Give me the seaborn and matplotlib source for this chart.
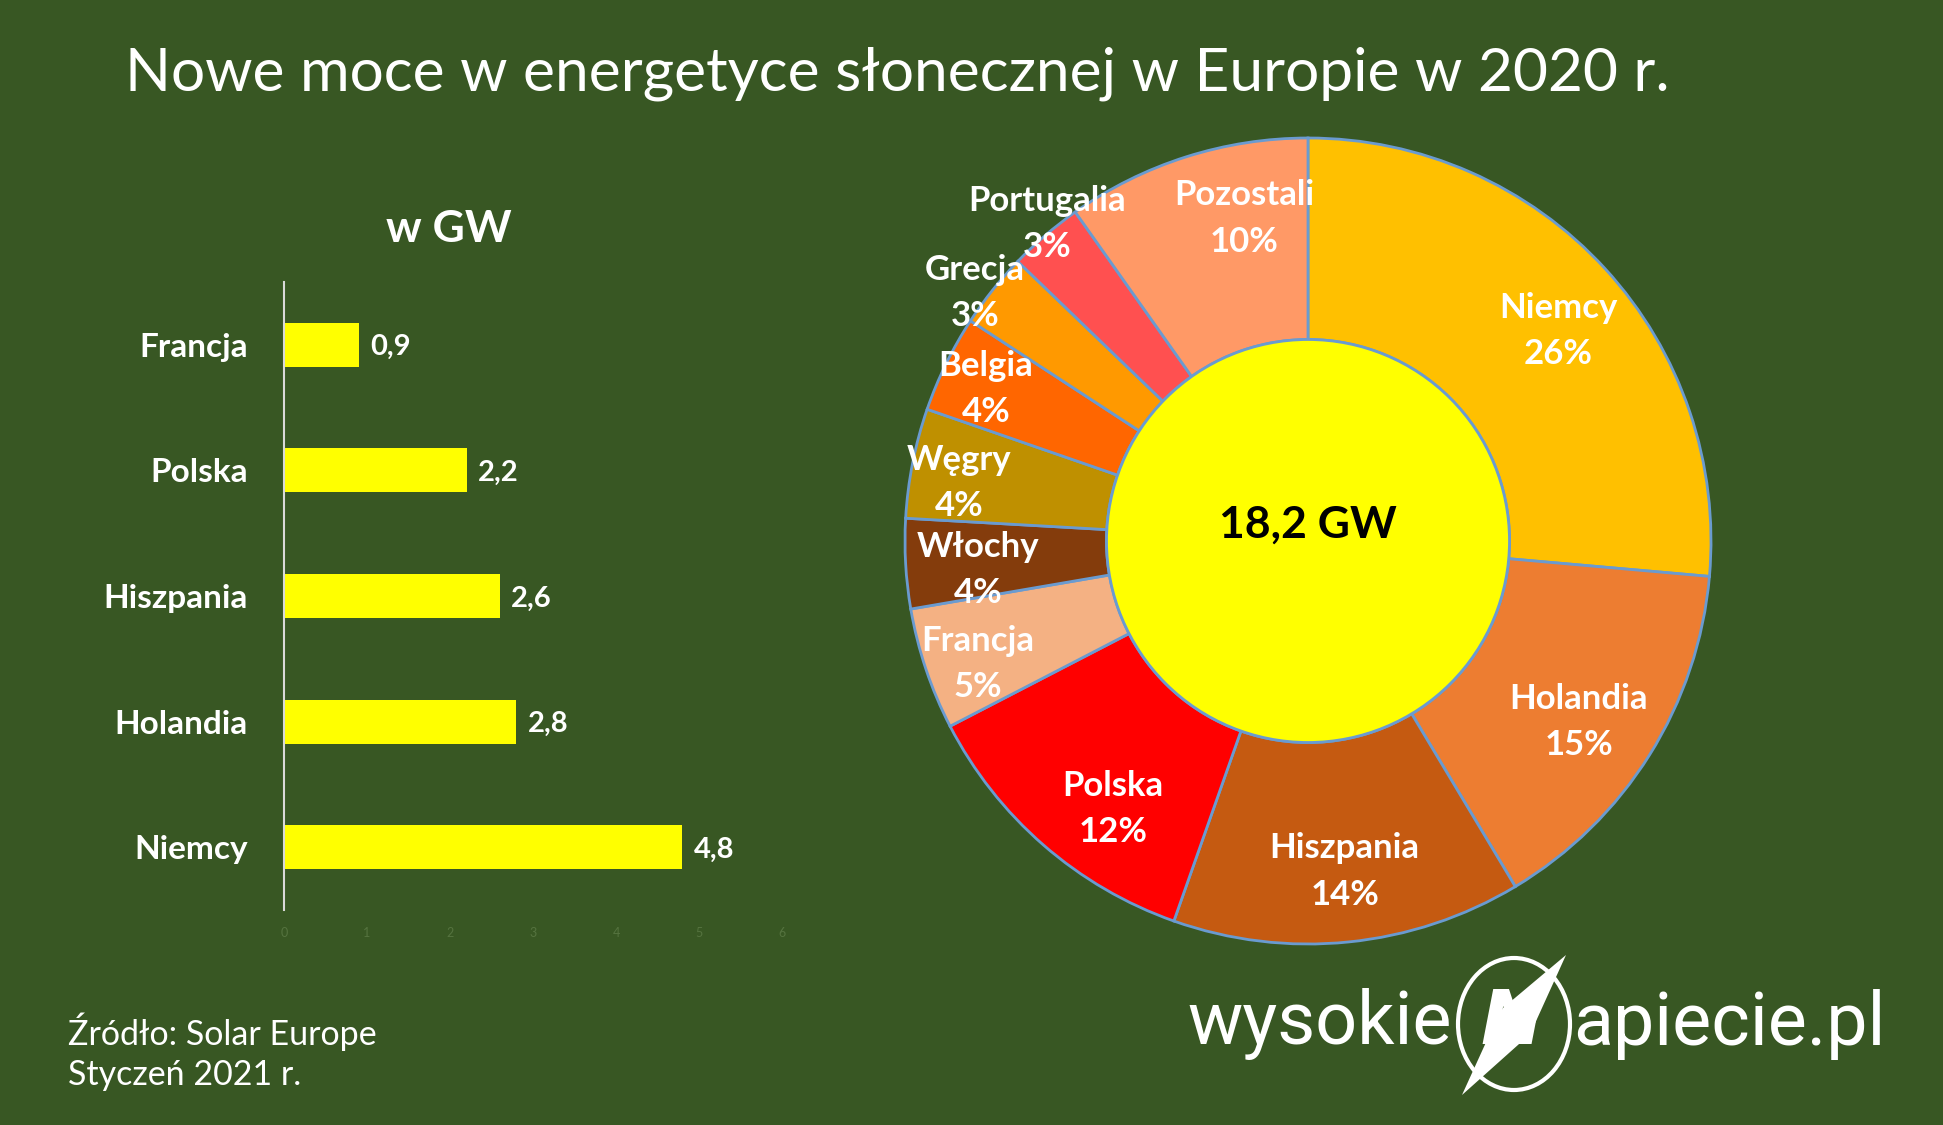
import numpy as np
import matplotlib
matplotlib.use("Agg")
import matplotlib.pyplot as plt
from matplotlib.patches import Circle, Ellipse, Polygon
import seaborn as sns

# --- data -------------------------------------------------------------
bar_countries = ["Francja", "Polska", "Hiszpania", "Holandia", "Niemcy"]
bar_values = [0.9, 2.2, 2.6, 2.8, 4.8]  # GW

donut_countries = ["Niemcy", "Holandia", "Hiszpania", "Polska", "Francja", "Włochy",
                   "Węgry", "Belgia", "Grecja", "Portugalia", "Pozostali"]
donut_shares = [26.4, 15.0, 14.0, 12.0, 4.9, 3.6, 4.4, 3.9, 3.0, 3.0, 9.8]  # %
donut_colors = ["#FFC000", "#ED7D31", "#C55A11", "#FF0000", "#F4B183", "#843C0C",
                "#BF9000", "#FF6600", "#FF9900", "#FF5050", "#FF9966"]
total_label = "18,2 GW"

title = "Nowe moce w energetyce słonecznej w Europie w 2020 r."
unit_label = "w GW"
source_text = "Źródło: Solar Europe\nStyczeń 2021 r."

# --- style ------------------------------------------------------------
BG = "#385723"
EDGE = "#6A9BD0"
sns.set_style("white")
plt.rcParams["font.family"] = ["Lato", "DejaVu Sans"]

W, H = 1943, 1125
fig = plt.figure(figsize=(W / 100, H / 100), dpi=100, facecolor=BG)

# --- bar chart --------------------------------------------------------
ax_bar = fig.add_axes([284 / W, 1 - 910 / H, 498 / W, 628 / H])
ax_bar.set_facecolor(BG)
sns.barplot(x=bar_values, y=bar_countries, orient="h", color="#FFFF00",
            saturation=1, width=0.35, linewidth=0, ax=ax_bar)
ax_bar.set_xlim(0, 6)
ax_bar.set_xticks(range(7))
ax_bar.set_xlabel("")
ax_bar.set_ylabel("")
ax_bar.tick_params(axis="x", length=0, pad=12, labelsize=9, labelcolor="#55733F")
ax_bar.tick_params(axis="y", length=0, pad=26, labelsize=24, labelcolor="white")
for lbl in ax_bar.get_yticklabels():
    lbl.set_fontweight("bold")
for side in ["top", "right", "bottom"]:
    ax_bar.spines[side].set_visible(False)
ax_bar.spines["left"].set_color("#D9D9D9")
ax_bar.spines["left"].set_linewidth(1.5)
labels = ax_bar.bar_label(ax_bar.containers[0],
                          labels=[f"{v:.1f}".replace(".", ",") for v in bar_values],
                          padding=8, color="white", fontsize=21, fontweight="bold")
for t in labels:
    t.set_va("center_baseline")

fig.text(449 / W, 1 - 229 / H, unit_label, ha="center", va="center",
         color="white", fontsize=32, fontweight="bold")

# --- donut chart ------------------------------------------------------
ax_pie = fig.add_axes([905 / W, 1 - 944 / H, 806 / W, 806 / H])
ax_pie.set_facecolor(BG)
wedges, _ = ax_pie.pie(donut_shares, colors=donut_colors, startangle=90,
                       counterclock=False, radius=1,
                       wedgeprops=dict(width=0.5, edgecolor=EDGE, linewidth=2))
for w in wedges:
    w.set_clip_on(False)
ax_pie.add_patch(Circle((0, 0), 0.5, facecolor="#FFFF00", edgecolor=EDGE,
                        linewidth=2, clip_on=False))
ax_pie.set_xlim(-1, 1)
ax_pie.set_ylim(-1, 1)
ax_pie.axis("off")

label_r = [0.82, 0.80, 0.81, 0.81, 0.87, 0.82, 0.88, 0.89, 1.04, 1.03, 0.83]
label_nudge = [-1.7, -0.8, 0.7, 4.4, 0.9, 0.8, 0.7, 0.0, 1.2, -1.8, -6.7]
for w, name, share, r, nd in zip(wedges, donut_countries, donut_shares,
                                 label_r, label_nudge):
    ang = np.deg2rad((w.theta1 + w.theta2) / 2 + nd)
    ax_pie.text(r * np.cos(ang), r * np.sin(ang) - 0.015, f"{name}\n{round(share)}%",
                ha="center", va="center", color="white", fontsize=25,
                fontweight="bold", linespacing=1.55)

ax_pie.text(0, 0.04, total_label, ha="center", va="center", color="black",
            fontsize=32, fontweight="bold")

# --- title, source, logo ---------------------------------------------
fig.text(897 / W, 1 - 74 / H, title, ha="center", va="center", color="white",
         fontsize=43.5)
fig.text(68 / W, 1 - 1052 / H, source_text, ha="left", va="center",
         color="white", fontsize=24.5, linespacing=1.3)

logo_y = 1 - 1024 / H
fig.text(1452 / W, logo_y, "wysokie", ha="right", va="center", color="white",
         fontsize=53, family=["Roboto", "DejaVu Sans"])
fig.text(1573 / W, logo_y, "apiecie.pl", ha="left", va="center", color="white",
         fontsize=53, family=["Roboto", "DejaVu Sans"])
fig.text(1512 / W, logo_y, "N", ha="center", va="center", color="white",
         fontsize=54, family=["DejaVu Sans"], fontweight="bold",
         style="oblique")
fig.patches.append(Ellipse((1514 / W, logo_y), 112 / W, 132 / H, fill=False,
                           edgecolor="white", linewidth=3,
                           transform=fig.transFigure))
bolt = [(1566, 955), (1532, 1030), (1528, 1036), (1462, 1095), (1498, 1016), (1503, 1008)]
fig.patches.append(Polygon([(x / W, 1 - y / H) for x, y in bolt], closed=True,
                           facecolor="white", edgecolor="none",
                           transform=fig.transFigure))

fig.savefig("out.png", dpi=100, facecolor=BG)
